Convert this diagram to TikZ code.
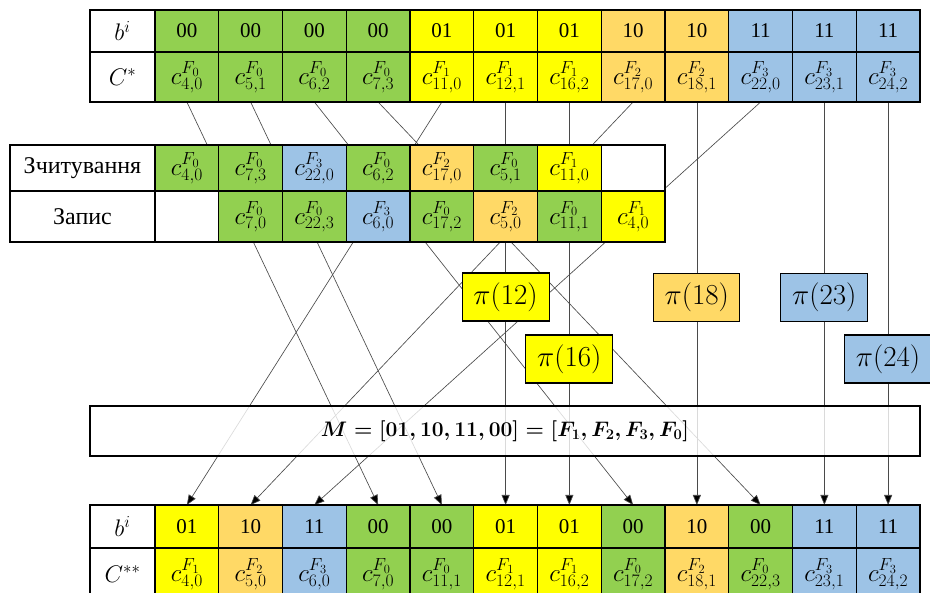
\RequirePackage{fix-cm}
\documentclass[tikz,border=0pt]{standalone}
\usepackage{fontspec}
\setmainfont{Liberation Serif}
\usetikzlibrary{arrows.meta}
\definecolor{col0}{HTML}{92D050}
\definecolor{col1}{HTML}{FFFF00}
\definecolor{col2}{HTML}{FFD966}
\definecolor{col3}{HTML}{9DC3E6}
\definecolor{linkgray}{HTML}{4A4A4A}
\pgfdeclarelayer{back}
\pgfsetlayers{back,main}
% b-code of a class index, and a permuted element
\newcommand\bcode[1]{\ifcase#1 00\or 01\or 10\or 11\fi}
\newcommand\cval[2]{$c^{F_{#1}}_{#2}$}
\newcommand\morder{{\boldmath$M=[01,10,11,00]=[F_1,F_2,F_3,F_0]$}}
\begin{document}
\begin{tikzpicture}[x=1pt,y=-1pt,
  box/.style={draw=black, line width=1.2pt, inner sep=0pt, outer sep=0pt},
  cell/.style={box, minimum width=63.75pt},
  bfont/.style={font=\fontsize{21}{24}\selectfont},
  cfont/.style={font=\fontsize{25}{28}\selectfont},
  lab/.style={box, fill=white, minimum width=65pt, font=\fontsize{24}{28}\selectfont},
  rowlab/.style={box, fill=white, minimum width=145pt, font=\fontsize{24}{28}\selectfont},
  pibox/.style={box, minimum width=87pt, minimum height=48pt, font=\fontsize{29}{32}\selectfont},
  mbox/.style={box, fill=white, fill opacity=0.8, text opacity=1, minimum width=830pt, minimum height=50pt, font=\fontsize{21}{24}\selectfont},
  conn/.style={draw=linkgray, line width=0.65pt},
  arr/.style={conn, -{Triangle[length=10pt,width=8pt,fill=black]}}]
\useasboundingbox (0,0) rectangle (930,593);

% input sequence C*
\node[lab, minimum height=42pt] (tbl) at (122.5,31) {$b^i$};
\node[lab, minimum height=50pt] (tcl) at (122.5,77) {$C^*$};
\foreach \fv/\sv [count=\i] in {0/{4,0},0/{5,1},0/{6,2},0/{7,3},1/{11,0},1/{12,1},1/{16,2},2/{17,0},2/{18,1},3/{22,0},3/{23,1},3/{24,2}} {
  \node[cell, bfont, fill=col\fv, minimum height=42pt] (tb\i) at ({155+63.75*(\i-0.5)},31) {\bcode{\fv}};
  \node[cell, cfont, fill=col\fv, minimum height=50pt] (tc\i) at ({155+63.75*(\i-0.5)},77) {\cval{\fv}{\sv}};
}

% read / write buffer
\node[rowlab, minimum height=46pt] (rl) at (82.5,168) {Зчитування};
\node[rowlab, minimum height=51pt] (wl) at (82.5,216.5) {Запис};
\foreach \fv/\sv [count=\i] in {0/{4,0},0/{7,3},3/{22,0},0/{6,2},2/{17,0},0/{5,1},1/{11,0}} {
  \node[cell, cfont, fill=col\fv, minimum height=46pt] (r\i) at ({155+63.75*(\i-0.5)},168) {\cval{\fv}{\sv}};
}
\node[cell, fill=white, minimum height=46pt] (r8) at ({155+63.75*7.5},168) {};
\node[cell, fill=white, minimum height=51pt] (w1) at ({155+63.75*0.5},216.5) {};
\foreach \fv/\sv [count=\i from 2] in {0/{7,0},0/{22,3},3/{6,0},0/{17,2},2/{5,0},0/{11,1},1/{4,0}} {
  \node[cell, cfont, fill=col\fv, minimum height=51pt] (w\i) at ({155+63.75*(\i-0.5)},216.5) {\cval{\fv}{\sv}};
}

% permutation boxes
\node[pibox, fill=col1] (p12) at ({155+63.75*5.5},297) {$\pi(12)$};
\node[pibox, fill=col1] (p16) at ({155+63.75*6.5},359) {$\pi(16)$};
\node[pibox, fill=col2, minimum width=86pt] (p18) at ({155+63.75*8.5},297.5) {$\pi(18)$};
\node[pibox, fill=col3] (p23) at ({155+63.75*10.5},297.5) {$\pi(23)$};
\node[pibox, fill=col3] (p24) at ({155+63.75*11.5},359) {$\pi(24)$};

% class order
\node[mbox] (mrow) at (505,431) {\morder};

% output sequence C**
\node[lab, minimum height=43pt] (bbl) at (122.5,526.5) {$b^i$};
\node[lab, minimum height=52pt] (bcl) at (122.5,574) {$C^{**}$};
\foreach \fv/\sv [count=\i] in {1/{4,0},2/{5,0},3/{6,0},0/{7,0},0/{11,1},1/{12,1},1/{16,2},0/{17,2},2/{18,1},0/{22,3},3/{23,1},3/{24,2}} {
  \node[cell, bfont, fill=col\fv, minimum height=43pt] (bb\i) at ({155+63.75*(\i-0.5)},526.5) {\bcode{\fv}};
  \node[cell, cfont, fill=col\fv, minimum height=52pt] (bc\i) at ({155+63.75*(\i-0.5)},574) {\cval{\fv}{\sv}};
}

% links from C* to C**
\begin{pgfonlayer}{back}
\foreach \a/\b in {1/4,2/5,3/8,4/10,5/1,6/6,7/7,8/2,9/9,10/3,11/11,12/12}
  \draw[arr] (tc\a.south) -- (bb\b.north);
\end{pgfonlayer}
\end{tikzpicture}
\end{document}
